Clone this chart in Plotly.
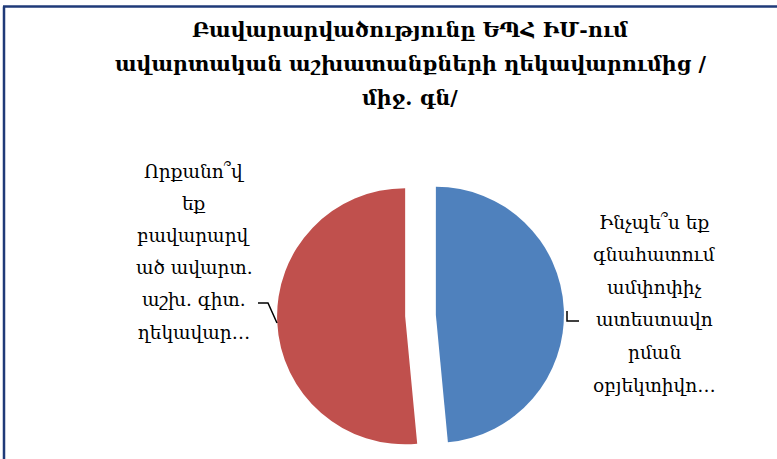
import plotly.graph_objects as go

W, H = 777, 459

# data
labels = ["Ինչպե՞ս եք գնահատում ամփոփիչ ատեստավորման օբյեկտիվությունը",
          "Որքանո՞վ եք բավարարված ավարտ. աշխ. գիտ. ղեկավարից"]
values = [48.5, 51.5]
colors = ["#4F81BD", "#C0504D"]

title_lines = ["Բավարարվածությունը ԵՊՀ ԻՄ-ում",
               "ավարտական աշխատանքների ղեկավարումից /",
               "միջ. գն/"]
left_label = ["Որքանո՞վ", "եք", "բավարարվ", "ած ավարտ.", "աշխ. գիտ.", "ղեկավար…"]
right_label = ["Ինչպե՞ս եք", "գնահատում", "ամփոփիչ", "ատեստավո", "րման", "օբյեկտիվո…"]

FONT = "DejaVu Serif"


def px(x):
    return x / W


def py(y):
    return 1 - y / H


fig = go.Figure()

fig.add_trace(go.Pie(
    labels=labels,
    values=values,
    sort=False,
    direction="clockwise",
    rotation=0,
    pull=[0.12, 0.12],
    marker=dict(colors=colors),
    textinfo="none",
    hoverinfo="label+percent",
    showlegend=False,
    domain=dict(x=[px(276), px(565)], y=[0, 0.625]),
))

annotations = []
# title, one annotation per line to keep the wide line spacing
for i, line in enumerate(title_lines):
    annotations.append(dict(
        text=f"<b>{line}</b>", x=px(410), y=py(30 + 34 * i),
        xref="paper", yref="paper", xanchor="center", yanchor="middle",
        showarrow=False, font=dict(family=FONT, size=20.5, color="#000000")))

# slice labels
for i, line in enumerate(left_label):
    annotations.append(dict(
        text=line, x=px(194), y=py(171 + 32.2 * i),
        xref="paper", yref="paper", xanchor="center", yanchor="middle",
        showarrow=False, font=dict(family=FONT, size=18.5, color="#000000")))

for i, line in enumerate(right_label):
    annotations.append(dict(
        text=line, x=px(654), y=py(222 + 32.6 * i),
        xref="paper", yref="paper", xanchor="center", yanchor="middle",
        showarrow=False, font=dict(family=FONT, size=18.5, color="#000000")))

border = "#1F3A78"
shapes = [
    # frame (top and left edges visible)
    dict(type="line", xref="paper", yref="paper", x0=px(3), x1=1, y0=py(6.5), y1=py(6.5),
         line=dict(color=border, width=2.5)),
    dict(type="line", xref="paper", yref="paper", x0=px(4), x1=px(4), y0=py(6.5), y1=0,
         line=dict(color=border, width=2.5)),
    # leader lines
    dict(type="path", xref="paper", yref="paper",
         path=f"M {px(258)},{py(303)} L {px(268)},{py(303)} L {px(277)},{py(323)}",
         line=dict(color="#000000", width=1.5)),
    dict(type="path", xref="paper", yref="paper",
         path=f"M {px(567)},{py(311)} L {px(567)},{py(321)} L {px(579)},{py(321)}",
         line=dict(color="#000000", width=1.5)),
]

fig.update_layout(
    width=W, height=H,
    margin=dict(l=0, r=0, t=0, b=0),
    paper_bgcolor="#ffffff",
    plot_bgcolor="#ffffff",
    annotations=annotations,
    shapes=shapes,
)

# drop the browser's default body margin so the figure fills the window
fig.write_html("out.html", config={"displayModeBar": False},
               post_script="document.body.style.margin='0';")
